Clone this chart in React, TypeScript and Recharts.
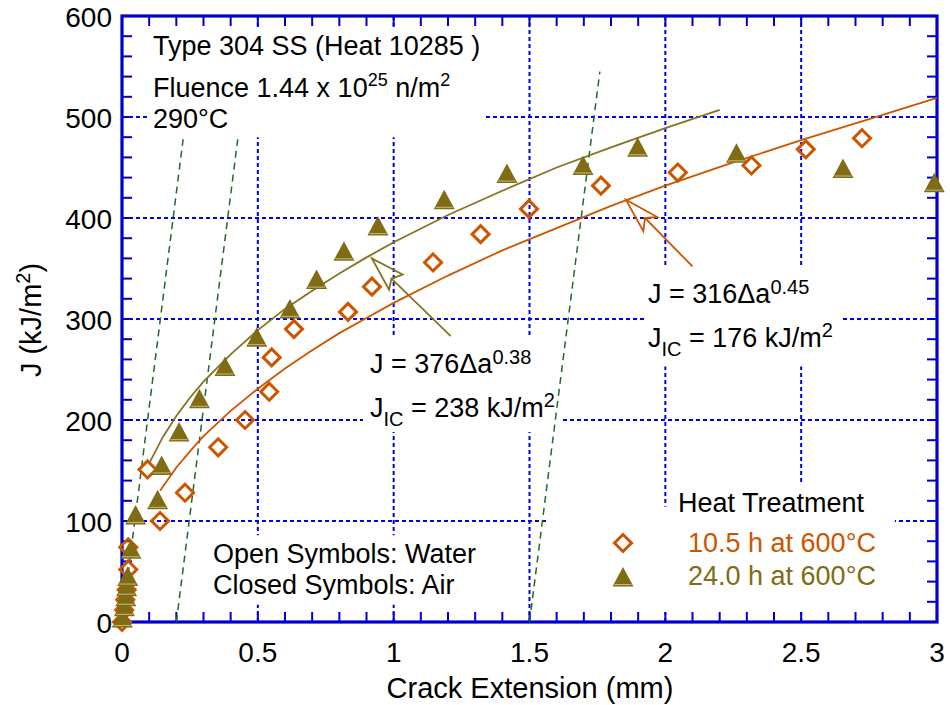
import React from 'react';
import { ComposedChart, XAxis, YAxis, CartesianGrid, Line, Scatter, ReferenceArea } from 'recharts';

// ---------- data ----------
// Open diamonds: 10.5 h at 600°C (water)
const water10h = [
  { x: 0.0, y: 0 }, { x: 0.008, y: 12 }, { x: 0.012, y: 22 }, { x: 0.017, y: 32 },
  { x: 0.023, y: 52 }, { x: 0.023, y: 74 }, { x: 0.094, y: 151 }, { x: 0.14, y: 100 },
  { x: 0.232, y: 128 }, { x: 0.354, y: 173 }, { x: 0.453, y: 200 }, { x: 0.542, y: 228 },
  { x: 0.551, y: 262 }, { x: 0.633, y: 290 }, { x: 0.832, y: 307 }, { x: 0.92, y: 332 },
  { x: 1.145, y: 356 }, { x: 1.32, y: 384 }, { x: 1.498, y: 409 }, { x: 1.763, y: 432 },
  { x: 2.046, y: 445 }, { x: 2.317, y: 452 }, { x: 2.517, y: 468 }, { x: 2.724, y: 479 },
];
// Filled triangles: 24.0 h at 600°C (air)
const air24h = [
  { x: 0.001, y: 4 }, { x: 0.009, y: 15 }, { x: 0.014, y: 25 }, { x: 0.017, y: 35 },
  { x: 0.021, y: 45 }, { x: 0.033, y: 72 }, { x: 0.05, y: 106 }, { x: 0.131, y: 121 },
  { x: 0.146, y: 155 }, { x: 0.21, y: 188 }, { x: 0.285, y: 221 }, { x: 0.379, y: 253 },
  { x: 0.496, y: 282 }, { x: 0.618, y: 310 }, { x: 0.716, y: 339 }, { x: 0.817, y: 367 },
  { x: 0.942, y: 392 }, { x: 1.186, y: 418 }, { x: 1.417, y: 444 }, { x: 1.697, y: 452 },
  { x: 1.898, y: 470 }, { x: 2.262, y: 464 }, { x: 2.654, y: 449 }, { x: 2.99, y: 435 },
];
// Fit curve J = 316Δa^0.45
const fitWater = [
  { x: 0.14, y: 130 }, { x: 0.2, y: 153 }, { x: 0.25, y: 169 }, { x: 0.3, y: 184 },
  { x: 0.4, y: 209 }, { x: 0.5, y: 231 }, { x: 0.6, y: 251 }, { x: 0.7, y: 269 },
  { x: 0.8, y: 286 }, { x: 0.9, y: 301 }, { x: 1.0, y: 316 }, { x: 1.2, y: 343 },
  { x: 1.4, y: 368 }, { x: 1.6, y: 390 }, { x: 1.8, y: 412 }, { x: 2.0, y: 432 },
  { x: 2.25, y: 455 }, { x: 2.5, y: 477 }, { x: 2.75, y: 498 }, { x: 3.0, y: 519 },
];
// Fit curve J = 376Δa^0.38
const fitAir = [
  { x: 0.1, y: 157 }, { x: 0.15, y: 183 }, { x: 0.2, y: 204 }, { x: 0.25, y: 222 },
  { x: 0.3, y: 238 }, { x: 0.4, y: 265 }, { x: 0.5, y: 289 }, { x: 0.6, y: 310 },
  { x: 0.7, y: 328 }, { x: 0.8, y: 345 }, { x: 0.9, y: 361 }, { x: 1.0, y: 376 },
  { x: 1.2, y: 403 }, { x: 1.4, y: 427 }, { x: 1.6, y: 450 }, { x: 1.8, y: 470 },
  { x: 2.0, y: 489 }, { x: 2.2, y: 507 },
];
// Blunting / exclusion lines
const blunt1 = [{ x: 0.0, y: 0 }, { x: 0.225, y: 478 }];
const blunt2 = [{ x: 0.2, y: 0 }, { x: 0.426, y: 478 }];
const blunt3 = [{ x: 1.5, y: 0 }, { x: 1.759, y: 545 }];
// Pointer arrows (shaft end -> notch -> wing -> tip -> wing -> notch)
const arrowAir = [
  { x: 1.21, y: 283 }, { x: 0.992, y: 340 }, { x: 1.033, y: 344 },
  { x: 0.92, y: 360 }, { x: 0.983, y: 329 }, { x: 0.992, y: 340 },
];
const arrowWater = [
  { x: 2.1, y: 352 }, { x: 1.925, y: 400 }, { x: 1.97, y: 401 },
  { x: 1.855, y: 418 }, { x: 1.919, y: 387 }, { x: 1.925, y: 400 },
];
// Text boxes that mask the grid (data coordinates)
const maskBoxes = [
  { x1: 0.096, x2: 1.329, y1: 480, y2: 588 },
  { x1: 0.887, x2: 1.616, y1: 188, y2: 284 },
  { x1: 1.925, x2: 2.643, y1: 253, y2: 353 },
  { x1: 0.287, x2: 1.318, y1: 17, y2: 86 },
  { x1: 1.564, x2: 2.845, y1: 10, y2: 114 },
  { x1: 2.017, x2: 2.771, y1: 113, y2: 136 },
];

const X_DOMAIN = [0, 3];
const Y_DOMAIN = [0, 600];
const xTicks = Array.from({ length: 31 }, (_, i) => i / 10);
const yTicks = Array.from({ length: 31 }, (_, i) => i * 20);
const xGrid = [0.5, 1, 1.5, 2, 2.5];
const yGrid = [100, 200, 300, 400, 500];
const xLabelValues = [0, 0.5, 1, 1.5, 2, 2.5, 3];
const yLabelValues = [0, 100, 200, 300, 400, 500, 600];

const W = 950;
const H = 705;
const PLOT = { left: 122, top: 16, right: 937, bottom: 622 };

const AXIS = '#0000cc';
const GRID = '#0000e6';
const ORANGE = '#cc5500';
const OLIVE = '#806c14';
const OLIVE_LINE = '#867322';
const GREEN = '#1d6b2d';
const FONT = '"Liberation Sans", Arial, Helvetica, sans-serif';

const isLabel = (list: number[], v: number) => list.some((l) => Math.abs(l - v) < 1e-6);

const BottomTick = (p: any) => {
  const v = p.payload.value;
  if (!isLabel(xLabelValues, v)) return <g />;
  return (
    <text x={p.x} y={p.y + 40} textAnchor="middle" fontSize={28} fontFamily={FONT} fill="#000">
      {String(Math.round(v * 10) / 10)}
    </text>
  );
};
const LeftTick = (p: any) => {
  const v = p.payload.value;
  if (!isLabel(yLabelValues, v)) return <g />;
  return (
    <text x={p.x - 10} y={p.y + 11} textAnchor="end" fontSize={28} fontFamily={FONT} fill="#000">
      {String(v)}
    </text>
  );
};

// frame tick positions (axis furniture, same linear mapping as the chart's plot area)
const px = (v: number) => PLOT.left + ((v - X_DOMAIN[0]) / (X_DOMAIN[1] - X_DOMAIN[0])) * (PLOT.right - PLOT.left);
const py = (v: number) => PLOT.bottom - ((v - Y_DOMAIN[0]) / (Y_DOMAIN[1] - Y_DOMAIN[0])) * (PLOT.bottom - PLOT.top);

const Frame = () => (
  <g>
    {xTicks.map((v, i) => (
      <g key={'x' + i}>
        <line x1={px(v)} y1={PLOT.bottom} x2={px(v)} y2={PLOT.bottom - 10} stroke={AXIS} strokeWidth={2} />
        <line x1={px(v)} y1={PLOT.top} x2={px(v)} y2={PLOT.top + 10} stroke={AXIS} strokeWidth={2} />
      </g>
    ))}
    {yTicks.map((v, i) => (
      <g key={'y' + i}>
        <line x1={PLOT.left} y1={py(v)} x2={PLOT.left + 10} y2={py(v)} stroke={AXIS} strokeWidth={2} />
        <line x1={PLOT.right} y1={py(v)} x2={PLOT.right - 10} y2={py(v)} stroke={AXIS} strokeWidth={2} />
      </g>
    ))}
    <rect
      x={PLOT.left}
      y={PLOT.top}
      width={PLOT.right - PLOT.left}
      height={PLOT.bottom - PLOT.top}
      fill="none"
      stroke={AXIS}
      strokeWidth={3.2}
    />
  </g>
);

const Diamond = ({ cx, cy }: any) => (
  <path
    d={`M${cx},${cy - 8.5} L${cx + 8.5},${cy} L${cx},${cy + 8.5} L${cx - 8.5},${cy} Z`}
    fill="none"
    stroke={ORANGE}
    strokeWidth={3}
  />
);
const Triangle = ({ cx, cy }: any) => (
  <g>
    <path d={`M${cx},${cy - 10} L${cx + 10.5},${cy + 9.5} L${cx - 10.5},${cy + 9.5} Z`} fill={OLIVE} />
    <line x1={cx - 8.5} y1={cy + 7.5} x2={cx + 8.5} y2={cy + 7.5} stroke="#c8b97c" strokeWidth={1} />
  </g>
);

const T = (props: any) => <text fontFamily={FONT} fontSize={27} fill="#000" {...props} />;

export default function App() {
  return (
    <div style={{ position: 'absolute', left: 0, top: 0, width: W, height: H, background: '#fff' }}>
      <svg width={W} height={H} style={{ position: 'absolute', left: 0, top: 0 }}>
        <Frame />
      </svg>
      <div style={{ position: 'absolute', left: 0, top: 0 }}>
        <ComposedChart
          width={W}
          height={H}
          margin={{ top: PLOT.top, right: W - PLOT.right, bottom: 0, left: 0 }}
        >
          <CartesianGrid
            stroke={GRID}
            strokeWidth={2}
            strokeDasharray="4 3"
            verticalValues={xGrid}
            horizontalValues={yGrid}
          />
          {maskBoxes.map((b, i) => (
            <ReferenceArea key={i} x1={b.x1} x2={b.x2} y1={b.y1} y2={b.y2} fill="#fff" fillOpacity={1} stroke="none" ifOverflow="visible" />
          ))}
          <XAxis
            dataKey="x" type="number" domain={X_DOMAIN} ticks={xTicks} interval={0}
            height={H - PLOT.bottom} tickSize={0} tickMargin={0} tickLine={false}
            axisLine={false} tick={<BottomTick />}
          />
          <YAxis
            dataKey="y" type="number" domain={Y_DOMAIN} ticks={yTicks} interval={0}
            width={PLOT.left} tickSize={0} tickMargin={0} tickLine={false}
            axisLine={false} tick={<LeftTick />}
          />
          <Line data={blunt1} dataKey="y" stroke={GREEN} strokeWidth={1.5} strokeDasharray="7 5" dot={false} isAnimationActive={false} />
          <Line data={blunt2} dataKey="y" stroke={GREEN} strokeWidth={1.5} strokeDasharray="7 5" dot={false} isAnimationActive={false} />
          <Line data={blunt3} dataKey="y" stroke={GREEN} strokeWidth={1.5} strokeDasharray="7 5" dot={false} isAnimationActive={false} />
          <Line data={fitWater} dataKey="y" stroke={ORANGE} strokeWidth={1.8} dot={false} isAnimationActive={false} />
          <Line data={fitAir} dataKey="y" stroke={OLIVE_LINE} strokeWidth={1.8} dot={false} isAnimationActive={false} />
          <Line data={arrowAir} dataKey="y" stroke={OLIVE_LINE} strokeWidth={1.8} dot={false} isAnimationActive={false} />
          <Line data={arrowWater} dataKey="y" stroke={ORANGE} strokeWidth={1.8} dot={false} isAnimationActive={false} />
          <Scatter data={water10h} dataKey="y" shape={(p: any) => <Diamond cx={p.cx} cy={p.cy} />} isAnimationActive={false} />
          <Scatter data={air24h} dataKey="y" shape={(p: any) => <Triangle cx={p.cx} cy={p.cy} />} isAnimationActive={false} />
        </ComposedChart>
      </div>
      <svg width={W} height={H} style={{ position: 'absolute', left: 0, top: 0, pointerEvents: 'none' }}>
        <T x={153} y={55}>Type 304 SS (Heat 10285 )</T>
        <T x={153} y={97}>
          Fluence 1.44 x 10<tspan dy={-11} fontSize={18}>25</tspan>
          <tspan dy={11}> n/m</tspan>
          <tspan dy={-11} fontSize={18}>2</tspan>
        </T>
        <T x={153} y={128}>290°C</T>

        <T x={370} y={373}>
          J = 376Δa<tspan dy={-9} fontSize={20}>0.38</tspan>
        </T>
        <T x={370} y={417}>
          J<tspan dy={9} fontSize={20}>IC</tspan>
          <tspan dy={-9}> = 238 kJ/m</tspan>
          <tspan dy={-10} fontSize={20}>2</tspan>
        </T>

        <T x={648} y={303}>
          J = 316Δa<tspan dy={-9} fontSize={20}>0.45</tspan>
        </T>
        <T x={648} y={347}>
          J<tspan dy={9} fontSize={20}>IC</tspan>
          <tspan dy={-9}> = 176 kJ/m</tspan>
          <tspan dy={-10} fontSize={20}>2</tspan>
        </T>

        <T x={213} y={563}>Open Symbols: Water</T>
        <T x={213} y={594}>Closed Symbols: Air</T>

        <T x={678} y={512}>Heat Treatment</T>
        <Diamond cx={623} cy={543} />
        <T x={688} y={552} fill={ORANGE}>10.5 h at 600°C</T>
        <Triangle cx={623} cy={577} />
        <T x={688} y={585} fill={OLIVE}>24.0 h at 600°C</T>

        <text x={530} y={698} textAnchor="middle" fontSize={29} fontFamily={FONT} fill="#000">
          Crack Extension (mm)
        </text>
        <text
          transform="translate(41,320) rotate(-90)"
          textAnchor="middle"
          fontSize={29}
          fontFamily={FONT}
          fill="#000"
        >
          J (kJ/m<tspan dy={-11} fontSize={20}>2</tspan>
          <tspan dy={11}>)</tspan>
        </text>
      </svg>
    </div>
  );
}
